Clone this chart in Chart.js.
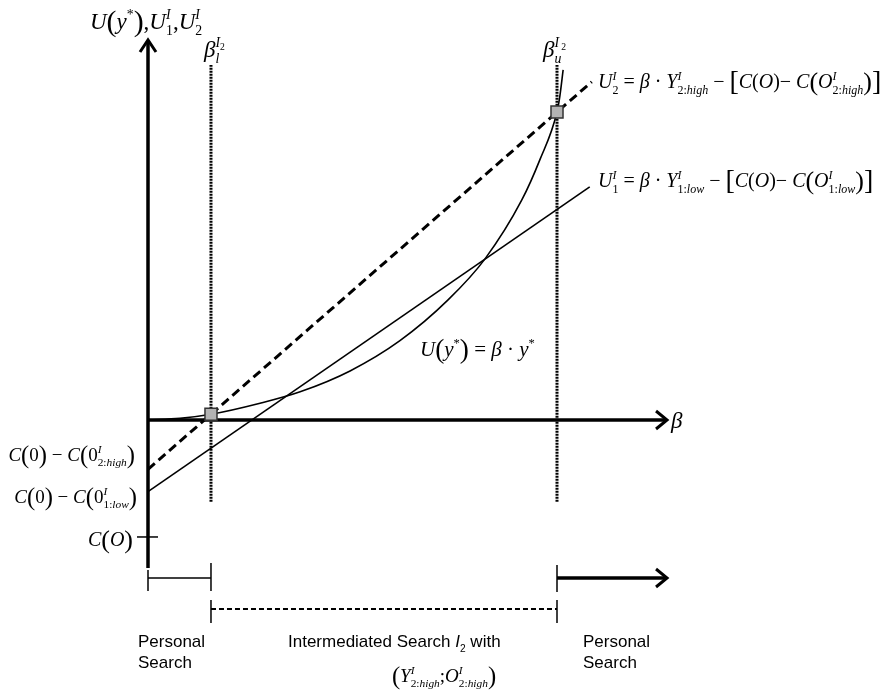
<!doctype html>
<html lang="en">
<head>
<meta charset="utf-8">
<title>Intermediated search</title>
<script src="https://cdn.jsdelivr.net/npm/chart.js"></script>
<style>
    html, body { margin: 0; padding: 0; background: #fff; }
    #wrap { width: 888px; height: 690px; }
</style>
</head>
<body>
<div id="wrap"><canvas id="diagram" width="888" height="690"></canvas></div>
<script>
// units: beta_u = 1, same unit on both axes, origin where the axes cross
const betaL = 0.154;
const betaU = 1.0;

// U(y*) = beta * y*
const curveX = [0, 0.078, 0.154, 0.274, 0.372, 0.494, 0.616, 0.733, 0.824, 0.914, 0.958, 1.0, 1.007, 1.015];
const curveY = [0, 0.004, 0.014, 0.041, 0.069, 0.120, 0.194, 0.293, 0.394, 0.538, 0.636, 0.753, 0.792, 0.856];

// U2 (dashed) and U1 (solid)
const u2X = [0, 1.085];
const u2Y = [-0.1205, 0.827];
const u1X = [0, 1.08];
const u1Y = [-0.1753, 0.570];

// vertical beta_l / beta_u lines
const vLineY = [-0.2, 0.868];

// intersections (grey squares)
const markX = [betaL, betaU];
const markY = [0.014, 0.753];

// axes
const xAxisEnd = 1.269;
const yAxisTop = 0.929;
const yAxisBottom = -0.362;
const cOValue = -0.286;

const pts = (xs, ys) => xs.map((x, i) => ({ x: x, y: ys[i] }));

// --- little rich text helper for the formulas ---
const KINDS = {
    i:    [1, 0, 'italic'],
    r:    [1, 0, ''],
    sub:  [0.6, 0.28, 'italic'],
    subr: [0.6, 0.28, ''],
    sup:  [0.6, -0.42, 'italic'],
    supr: [0.6, -0.42, ''],
    ss:   [0.42, -0.3, ''],
    P:    [1.3, 0.1, ''],
    B:    [1.4, 0.12, '']
};

function rich(ctx, parts, x, y, size, align, family) {
    family = family || '"Liberation Serif", serif';
    let cur = 0, prevStart = 0;
    const items = [];
    parts.forEach(p => {
        const k = KINDS[p[1]];
        const font = `${k[2]} ${size * k[0]}px ${family}`;
        ctx.font = font;
        const w = ctx.measureText(p[0]).width;
        const start = p[2] ? prevStart : cur;
        items.push({ t: p[0], font: font, x: start, dy: k[1] * size });
        cur = p[2] ? Math.max(cur, start + w) : start + w;
        prevStart = start;
    });
    const off = align === 'right' ? -cur : align === 'center' ? -cur / 2 : 0;
    ctx.textAlign = 'left';
    ctx.textBaseline = 'alphabetic';
    items.forEach(it => {
        ctx.font = it.font;
        ctx.fillText(it.t, x + off + it.x, y + it.dy);
    });
}

function chevron(ctx, x, y, dir) {
    ctx.beginPath();
    if (dir === 'up') {
        ctx.moveTo(x - 8, y + 12); ctx.lineTo(x, y); ctx.lineTo(x + 8, y + 12);
    } else {
        ctx.moveTo(x - 11, y - 9); ctx.lineTo(x, y); ctx.lineTo(x - 11, y + 9);
    }
    ctx.stroke();
}

function seg(ctx, x1, y1, x2, y2, lw, dash) {
    ctx.save();
    ctx.lineWidth = lw;
    ctx.setLineDash(dash || []);
    ctx.beginPath();
    ctx.moveTo(x1, y1);
    ctx.lineTo(x2, y2);
    ctx.stroke();
    ctx.restore();
}

const axesPlugin = {
    id: 'axes',
    beforeDatasetsDraw(chart) {
        const ctx = chart.ctx;
        const X = v => chart.scales.x.getPixelForValue(v);
        const Y = v => chart.scales.y.getPixelForValue(v);
        ctx.save();
        ctx.strokeStyle = '#000';
        ctx.lineCap = 'butt';
        ctx.lineJoin = 'miter';

        // y axis
        seg(ctx, X(0), Y(yAxisBottom), X(0), Y(yAxisTop) + 1, 3.5);
        ctx.lineWidth = 3;
        chevron(ctx, X(0), Y(yAxisTop), 'up');
        // x axis
        seg(ctx, X(0), Y(0), X(xAxisEnd) - 1, Y(0), 3.5);
        ctx.lineWidth = 3;
        chevron(ctx, X(xAxisEnd), Y(0), 'right');
        // C(O) tick
        seg(ctx, X(0) - 11, Y(cOValue), X(0) + 10, Y(cOValue), 1.5);

        // regions below the axis
        const rowA = 578, rowB = 609;
        seg(ctx, X(0), rowA, X(betaL), rowA, 1.5);
        seg(ctx, X(0), 570, X(0), 591, 1.5);
        seg(ctx, X(betaL), 563, X(betaL), 591, 1.5);
        seg(ctx, X(betaL), rowB, X(betaU), rowB, 2, [5, 3]);
        seg(ctx, X(betaL), 600, X(betaL), 623, 1.5);
        seg(ctx, X(betaU), 600, X(betaU), 623, 1.5);
        seg(ctx, X(betaU), rowA, X(xAxisEnd) - 1, rowA, 3.5);
        seg(ctx, X(betaU), 565, X(betaU), 592, 1.5);
        ctx.lineWidth = 3;
        chevron(ctx, X(xAxisEnd), rowA, 'right');
        ctx.restore();
    },
    afterDraw(chart) {
        const ctx = chart.ctx;
        ctx.save();
        ctx.fillStyle = '#000';

        rich(ctx, [['U', 'i'], ['(', 'P'], ['y', 'i'], ['*', 'supr'], [')', 'P'], [',', 'r'],
            ['U', 'i'], ['I', 'sup'], ['1', 'subr', 1], [',', 'r'],
            ['U', 'i'], ['I', 'sup'], ['2', 'subr', 1]], 90, 29, 23, 'left');

        rich(ctx, [['β', 'i'], ['l', 'sub'], ['I', 'sup', 1], ['2', 'ss']], 204, 57, 23, 'left');
        rich(ctx, [['β', 'i'], ['u', 'sub'], ['I', 'sup', 1], ['2', 'ss']], 543, 57, 23, 'left');

        rich(ctx, [['U', 'i'], ['I', 'sup'], ['2', 'subr', 1], [' = ', 'r'], ['β', 'i'], [' · ', 'r'],
            ['Y', 'i'], ['I', 'sup'], ['2:', 'subr', 1], ['high', 'sub'], [' − ', 'r'], ['[', 'B'],
            ['C', 'i'], ['(', 'r'], ['O', 'i'], [')', 'r'], ['− ', 'r'], ['C', 'i'], ['(', 'P'], ['O', 'i'],
            ['I', 'sup'], ['2:', 'subr', 1], ['high', 'sub'], [')', 'P'], [']', 'B']], 598, 88, 20, 'left');

        rich(ctx, [['U', 'i'], ['I', 'sup'], ['1', 'subr', 1], [' = ', 'r'], ['β', 'i'], [' · ', 'r'],
            ['Y', 'i'], ['I', 'sup'], ['1:', 'subr', 1], ['low', 'sub'], [' − ', 'r'], ['[', 'B'],
            ['C', 'i'], ['(', 'r'], ['O', 'i'], [')', 'r'], ['− ', 'r'], ['C', 'i'], ['(', 'P'], ['O', 'i'],
            ['I', 'sup'], ['1:', 'subr', 1], ['low', 'sub'], [')', 'P'], [']', 'B']], 598, 187, 20, 'left');

        rich(ctx, [['U', 'i'], ['(', 'P'], ['y', 'i'], ['*', 'supr'], [')', 'P'], [' = ', 'r'],
            ['β', 'i'], [' · ', 'r'], ['y', 'i'], ['*', 'supr']], 420, 356, 21, 'left');

        rich(ctx, [['C', 'i'], ['(', 'P'], ['0', 'r'], [')', 'P'], [' − ', 'r'], ['C', 'i'], ['(', 'P'], ['0', 'r'],
            ['I', 'sup'], ['2:', 'subr', 1], ['high', 'sub'], [')', 'P']], 135, 461, 19, 'right');
        rich(ctx, [['C', 'i'], ['(', 'P'], ['0', 'r'], [')', 'P'], [' − ', 'r'], ['C', 'i'], ['(', 'P'], ['0', 'r'],
            ['I', 'sup'], ['1:', 'subr', 1], ['low', 'sub'], [')', 'P']], 137, 503, 19, 'right');
        rich(ctx, [['C', 'i'], ['(', 'P'], ['O', 'i'], [')', 'P']], 133, 546, 20, 'right');

        rich(ctx, [['β', 'i']], 671, 428, 23, 'left');

        // bottom captions
        const sans = '"Liberation Sans", Arial, sans-serif';
        ctx.font = `17px ${sans}`;
        ctx.fillText('Personal', 138, 647);
        ctx.fillText('Search', 138, 668);
        ctx.fillText('Personal', 583, 647);
        ctx.fillText('Search', 583, 668);
        rich(ctx, [['Intermediated Search ', 'r'], ['I', 'i'], ['2', 'subr'], [' with', 'r']], 288, 647, 17, 'left', sans);
        rich(ctx, [['(', 'P'], ['Y', 'i'], ['I', 'sup'], ['2:', 'subr', 1], ['high', 'sub'], [';', 'r'],
            ['O', 'i'], ['I', 'sup'], ['2:', 'subr', 1], ['high', 'sub'], [')', 'P']], 444, 682, 19, 'center');
        ctx.restore();
    }
};

const line = (data, extra) => Object.assign({
    data: data,
    showLine: true,
    borderColor: '#000',
    borderWidth: 1.6,
    pointRadius: 0,
    fill: false
}, extra);

new Chart(document.getElementById('diagram'), {
    type: 'scatter',
    data: {
        datasets: [
            {
                data: pts(markX, markY),
                showLine: false,
                pointStyle: 'rect',
                pointRadius: 8.5,
                backgroundColor: '#b3b3b3',
                borderColor: '#333',
                borderWidth: 1.5
            },
            line(pts(curveX, curveY), { cubicInterpolationMode: 'monotone' }),
            line(pts(u2X, u2Y), { borderWidth: 3, borderDash: [9, 5] }),
            line(pts(u1X, u1Y)),
            line(pts([betaL, betaL], vLineY), { borderWidth: 3, borderDash: [2, 1] }),
            line(pts([betaU, betaU], vLineY), { borderWidth: 3, borderDash: [2, 1] })
        ]
    },
    options: {
        responsive: false,
        animation: false,
        layout: { padding: 0, autoPadding: false },
        scales: {
            x: { type: 'linear', min: -148 / 409, max: 740 / 409, display: false },
            y: { type: 'linear', min: -270 / 409, max: 420 / 409, display: false }
        },
        plugins: {
            legend: { display: false },
            tooltip: { enabled: false }
        }
    },
    plugins: [axesPlugin]
});
</script>
</body>
</html>
